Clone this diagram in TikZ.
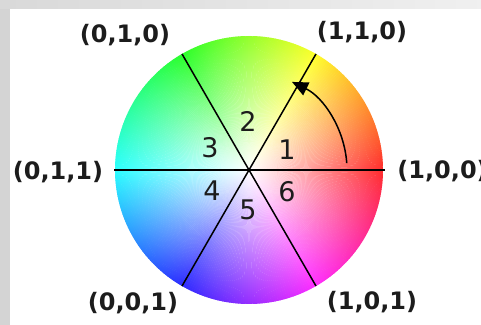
\documentclass[tikz,border=0pt]{standalone}
\usepackage{fontspec}
\setmainfont{DejaVu Sans}
\usetikzlibrary{arrows.meta, fadings, positioning}
\definecolor{LabelInk}{HTML}{1C1C1C}
\definecolor{FrameGray}{HTML}{D4D4D4}
\pgfdeclareradialshading{wheelshade}{\pgfpointorigin}{color(0bp)=(white); color(30bp)=(black); color(50bp)=(black)}
\pgfdeclarefading{wheelfade}{\pgfuseshading{wheelshade}}

\begin{document}
\begin{tikzpicture}[
  x=0.5pt, y=0.5pt,
  corner/.style={font=\fontsize{12}{14}\selectfont\bfseries, text=LabelInk, inner sep=0pt},
  sector/.style={font=\fontsize{13.5}{16}\selectfont, text=LabelInk, inner sep=0pt},
  spoke/.style={black, line width=0.75pt},
  turn/.style={-{Triangle[length=8pt, width=7pt]}, black, line width=0.75pt},
]
\clip (0,0) rectangle (481,325);
\useasboundingbox (0,0) rectangle (481,325);

% frame
\fill[FrameGray] (0,0) rectangle (10,325);
\shade[left color=gray!30, middle color=gray!42, right color=gray!12] (0,316) rectangle (481,325);

% hue wheel
\coordinate (c) at (249,155);
\foreach \h in {0,...,359}{
  \definecolor{huecol}{Hsb}{\h,1,1}
  \fill[huecol] (c) -- ++(\h-0.6:134) arc[start angle=\h-0.6, end angle=\h+0.6, radius=134] -- cycle;
}
\fill[white, path fading=wheelfade] (c) circle[radius=134];

% spokes
\path (c) +(0:136) coordinate (p0)   +(180:135) coordinate (p180)
          +(60:134) coordinate (p60) +(240:134) coordinate (p240)
          +(120:134) coordinate (p120) +(300:134) coordinate (p300);
\draw[spoke] (p180) -- (p0);
\draw[spoke] (p240) -- (p60);
\draw[spoke] (p120) -- (p300);

% direction of hue
\draw[turn] (c) ++(4:98) arc[start angle=4, end angle=64, radius=98];

% sectors
\node[sector] (s1) at (287,175) {1};
\node[sector] (s2) at (248,204) {2};
\node[sector] (s3) at (210,177) {3};
\node[sector] (s4) at (212,134) {4};
\node[sector] (s5) at (248,115) {5};
\node[sector] (s6) at (287,133) {6};

% corners
\node[corner] (green)   at (125,290) {(0,1,0)};
\node[corner] (yellow)  at (362,293) {(1,1,0)};
\node[corner] (cyan)    at (58,153)  {(0,1,1)};
\node[corner, anchor=west] (red) at (397,154) {(1,0,0)};
\node[corner] (blue)    at (133,22)  {(0,0,1)};
\node[corner] (magenta) at (372,23)  {(1,0,1)};

\end{tikzpicture}
\end{document}
